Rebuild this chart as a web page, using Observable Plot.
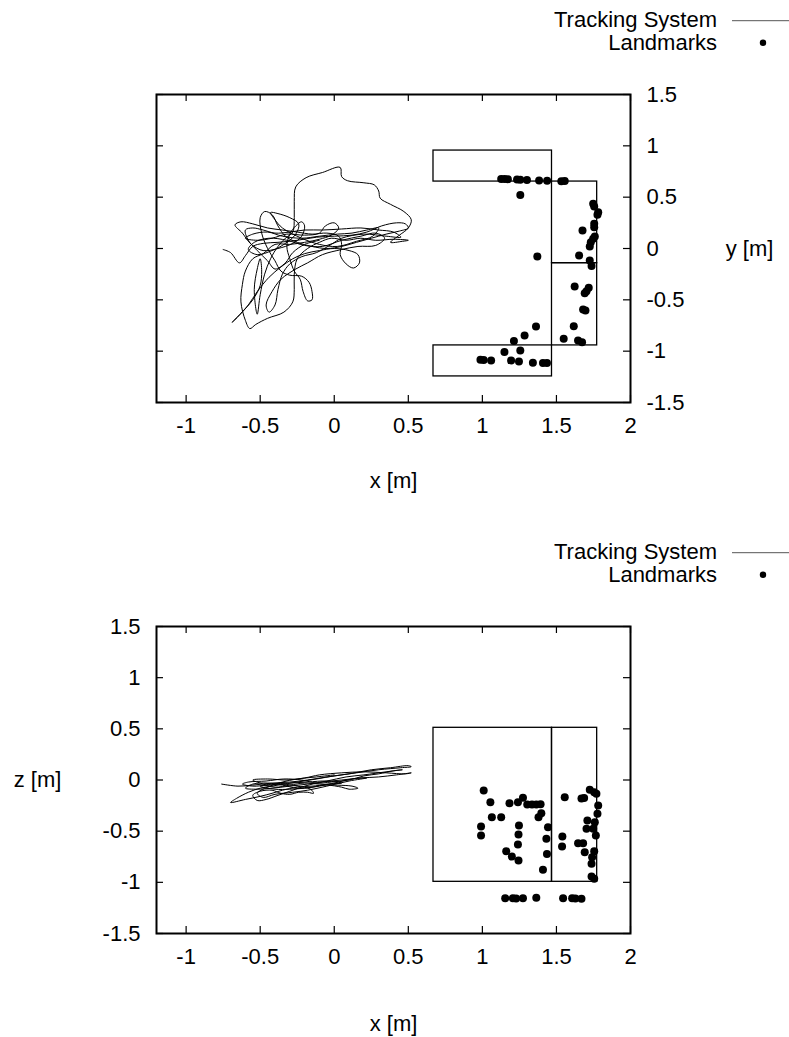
<!DOCTYPE html>
<html>
<head>
<meta charset="utf-8">
<script src="https://cdn.jsdelivr.net/npm/d3@7"></script>
<script src="https://cdn.jsdelivr.net/npm/@observablehq/plot@0.6"></script>
<style>
  html, body { margin: 0; padding: 0; background: #fff; }
  #wrap { position: relative; width: 789px; height: 1037px; font-family: "Liberation Sans", Arial, sans-serif; }
  #wrap > * { position: absolute; left: 0; }
  .leg text { font-family: "Liberation Sans", Arial, sans-serif; font-size: 22px; fill: #000; }
</style>
</head>
<body>
<div id="wrap"></div>
<script>
// ---------- data ----------
const xTicks = [-1, -0.5, 0, 0.5, 1, 1.5, 2];
const yTicks = [-1.5, -1, -0.5, 0, 0.5, 1, 1.5];
const zTicks = [-1.5, -1, -0.5, 0, 0.5, 1, 1.5];

const legendLabels = ["Tracking System", "Landmarks"];
const axisLabelX = "x [m]";
const axisLabelY = "y [m]";
const axisLabelZ = "z [m]";

// shelf outline (x-y view)
const rectXY_x1 = [0.67, 1.47, 1.47, 0.67];
const rectXY_x2 = [1.47, 1.775, 1.775, 1.47];
const rectXY_y1 = [0.652, -0.143, -0.944, -1.246];
const rectXY_y2 = [0.954, 0.652, -0.143, -0.944];

// shelf outline (x-z view)
const rectXZ_x1 = [0.67, 1.47];
const rectXZ_x2 = [1.47, 1.775];
const rectXZ_z1 = [-0.995, -0.995];
const rectXZ_z2 = [0.51, 0.51];

// landmarks (x-y view)
const lmXY_x = [1.127, 1.150, 1.172, 1.234, 1.256, 1.301, 1.383, 1.437, 1.533, 1.556,
  1.256, 1.748, 1.755, 1.782, 1.777, 1.755, 1.755, 1.676, 1.759, 1.748, 1.732, 1.725,
  1.371, 1.653, 1.725, 1.737, 1.623, 1.718, 1.703, 1.691, 1.680, 1.696, 1.617, 1.549,
  1.646, 1.673, 1.362, 1.285, 1.213, 1.256, 1.149, 0.987, 1.009, 1.059, 1.194, 1.247,
  1.341, 1.409, 1.436];
const lmXY_y = [0.678, 0.676, 0.675, 0.672, 0.670, 0.668, 0.662, 0.660, 0.655, 0.657,
  0.520, 0.435, 0.410, 0.354, 0.328, 0.240, 0.207, 0.175, 0.117, 0.094, 0.061, 0.019,
  -0.078, -0.068, -0.117, -0.170, -0.370, -0.383, -0.416, -0.435, -0.594, -0.604, -0.757, -0.880,
  -0.896, -0.912, -0.760, -0.847, -0.902, -0.993, -1.009, -1.083, -1.087, -1.090, -1.090, -1.100,
  -1.113, -1.116, -1.116];

// landmarks (x-z view)
const lmXZ_x = [1.009, 1.054, 1.183, 1.240, 1.274, 1.303, 1.335, 1.364, 1.393, 1.398, 1.379,
  1.064, 1.127, 1.556, 1.669, 1.687, 1.725, 1.755, 1.770, 1.782, 1.777, 1.709, 1.759,
  1.703, 1.748, 0.991, 1.247, 1.443, 0.991, 1.244, 1.240, 1.432, 1.540, 1.538, 1.646,
  1.680, 1.766, 1.691, 1.755, 1.741, 1.161, 1.199, 1.244, 1.436, 1.409, 1.737, 1.737,
  1.755, 1.154, 1.206, 1.228, 1.274, 1.364, 1.545, 1.606, 1.628, 1.669];
const lmXZ_z = [-0.103, -0.217, -0.227, -0.217, -0.174, -0.240, -0.240, -0.240, -0.238, -0.325, -0.364,
  -0.364, -0.364, -0.168, -0.180, -0.175, -0.096, -0.119, -0.135, -0.249, -0.330, -0.396, -0.412,
  -0.477, -0.477, -0.455, -0.445, -0.461, -0.543, -0.533, -0.630, -0.575, -0.552, -0.650, -0.618,
  -0.618, -0.543, -0.706, -0.696, -0.755, -0.696, -0.748, -0.787, -0.722, -0.878, -0.819, -0.943,
  -0.966, -1.155, -1.155, -1.157, -1.155, -1.150, -1.155, -1.155, -1.157, -1.160];

// tracking system trajectory (x-y view)
const trajXY_x = [-0.75, -0.70, -0.64, -0.60, -0.55, -0.48, -0.38, -0.25, -0.12, 0.00,
  0.12, 0.22, 0.32, 0.42, 0.48, 0.50, 0.44, 0.35, 0.25, 0.15,
  0.05, -0.05, -0.15, -0.25, -0.33, -0.38, -0.42, -0.47, -0.50, -0.49,
  -0.45, -0.40, -0.36, -0.30, -0.22, -0.17, -0.15, -0.15, -0.18, -0.21,
  -0.23, -0.27, -0.30, -0.32, -0.30, -0.26, -0.22, -0.20, -0.22, -0.28,
  -0.38, -0.48, -0.56, -0.62, -0.67, -0.63, -0.55, -0.45, -0.35, -0.25,
  -0.15, -0.05, 0.03, 0.05, 0.04, 0.08, 0.13, 0.17, 0.16, 0.10,
  0.00, -0.10, -0.20, -0.28, -0.36, -0.44, -0.52, -0.58, -0.64, -0.69,
  -0.63, -0.55, -0.50, -0.49, -0.50, -0.52, -0.54, -0.52, -0.50, -0.47,
  -0.43, -0.38, -0.33, -0.28, -0.27, -0.27, -0.26, -0.19, -0.08, 0.04,
  0.05, 0.09, 0.20, 0.27, 0.30, 0.31, 0.38, 0.47, 0.52, 0.50,
  0.44, 0.38, 0.46, 0.50, 0.40, 0.28, 0.18, 0.08, -0.02, -0.10,
  -0.18, -0.25, -0.27, -0.27, -0.28, -0.34, -0.45, -0.53, -0.57, -0.60,
  -0.63, -0.62, -0.60, -0.55, -0.48, -0.40, -0.30, -0.20, -0.10, -0.02,
  0.03, 0.00, -0.06, -0.10, -0.20, -0.32, -0.42, -0.52, -0.60, -0.55,
  -0.45, -0.35, -0.22, -0.10, 0.02, 0.12,
  0.22, 0.30, 0.26, 0.15, 0.02, -0.10, -0.22, -0.35, -0.40, -0.43,
  -0.38, -0.30, -0.24, -0.26, -0.34, -0.42, -0.52, -0.58, -0.54, -0.44,
  -0.32, -0.20, -0.08, 0.05, 0.18, 0.28, 0.34, 0.28, 0.16, 0.05,
  -0.08, -0.18, -0.26, -0.36, -0.42, -0.46, -0.44, -0.40, -0.38, -0.35,
  -0.30, -0.22, -0.12, -0.02, 0.05, 0.20, 0.35, 0.45, 0.40, 0.30,
  0.18, 0.05, -0.08, -0.20, -0.30, -0.40, -0.48, -0.55, -0.60, -0.58,
  -0.52, -0.45, -0.40, -0.33, -0.28, -0.20, -0.10];
const trajXY_y = [-0.01, -0.04, -0.14, -0.07, 0.02, 0.05, 0.06, 0.08, 0.11, 0.12,
  0.13, 0.16, 0.22, 0.25, 0.24, 0.20, 0.17, 0.14, 0.10, 0.06,
  0.02, 0.00, 0.02, 0.06, 0.12, 0.22, 0.33, 0.36, 0.30, 0.15,
  0.00, -0.12, -0.22, -0.26, -0.27, -0.33, -0.42, -0.50, -0.51, -0.42,
  -0.30, -0.22, -0.10, 0.02, 0.14, 0.22, 0.26, 0.22, 0.12, 0.05,
  0.00, -0.02, 0.04, 0.15, 0.23, 0.26, 0.24, 0.20, 0.18, 0.16,
  0.14, 0.15, 0.12, 0.04, -0.06, -0.15, -0.19, -0.14, -0.06, -0.02,
  0.00, -0.02, -0.05, -0.10, -0.18, -0.28, -0.42, -0.55, -0.65, -0.72,
  -0.63, -0.50, -0.36, -0.22, -0.10, -0.20, -0.40, -0.64, -0.45, -0.25,
  -0.10, 0.02, 0.10, 0.16, 0.30, 0.46, 0.60, 0.69, 0.74, 0.79,
  0.70, 0.66, 0.64, 0.62, 0.56, 0.49, 0.43, 0.36, 0.28, 0.20,
  0.13, 0.06, 0.07, 0.08, 0.09, 0.08, 0.10, 0.08, 0.10, 0.06,
  0.00, -0.10, -0.25, -0.40, -0.52, -0.62, -0.68, -0.74, -0.78, -0.70,
  -0.52, -0.35, -0.22, -0.10, -0.05, 0.04, 0.04, 0.06, 0.09, 0.13,
  0.20, 0.25, 0.22, 0.15, 0.13, 0.14, 0.10, 0.08, 0.10, 0.14,
  0.16, 0.12, 0.10, 0.12, 0.14, 0.15,
  0.18, 0.20, 0.12, 0.07, 0.02, 0.04, 0.10, 0.20, 0.28, 0.35,
  0.34, 0.30, 0.24, 0.14, 0.04, -0.02, -0.06, -0.01, 0.06, 0.10,
  0.08, 0.03, 0.02, 0.08, 0.12, 0.15, 0.10, 0.03, 0.02, -0.01,
  -0.06, -0.14, -0.20, -0.30, -0.42, -0.55, -0.62, -0.55, -0.40, -0.25,
  -0.15, -0.08, -0.04, 0.04, 0.10, 0.14, 0.12, 0.11, 0.16, 0.18,
  0.20, 0.19, 0.18, 0.18, 0.16, 0.15, 0.18, 0.20, 0.18, 0.08,
  -0.02, -0.12, -0.20, -0.14, -0.04, 0.04, 0.08];

// tracking system trajectory (x-z view)
const trajXZ_x = [-0.76, -0.65, -0.55, -0.42, -0.30, -0.18, -0.05, 0.10, 0.25, 0.38,
  0.50, 0.52, 0.45, 0.30, 0.15, 0.00, -0.12, -0.25, -0.38, -0.50,
  -0.58, -0.66, -0.70, -0.60, -0.50, -0.42, -0.35, -0.25, -0.15, -0.05,
  0.05, 0.10, 0.16, 0.12, 0.02, -0.10, -0.20, -0.30, -0.40, -0.50,
  -0.55, -0.45, -0.32, -0.20, -0.10, 0.05, 0.20, 0.35, 0.48, 0.52,
  0.42, 0.30, 0.18, 0.05, -0.08, -0.20, -0.30, -0.38, -0.46, -0.52,
  -0.55, -0.50, -0.42, -0.36, -0.30, -0.24, -0.18, -0.14, -0.16, -0.25,
  -0.35, -0.45, -0.55, -0.62, -0.58, -0.46, -0.34, -0.22, -0.12, -0.02,
  0.10, 0.20, 0.30, 0.40, 0.46,
  0.35, 0.20, 0.08, -0.05, -0.18, -0.30, -0.42, -0.52, -0.60, -0.55,
  -0.45, -0.35, -0.25, -0.15, -0.05, 0.05, -0.05, -0.18, -0.30, -0.42,
  -0.50, -0.40, -0.30, -0.20, -0.10, 0.00, 0.12, 0.22, 0.10, -0.05,
  -0.18, -0.28, -0.40, -0.48, -0.52, -0.45, -0.35, -0.25, -0.12, 0.00];
const trajXZ_z = [-0.04, -0.06, -0.05, -0.03, -0.02, 0.00, 0.03, 0.06, 0.10, 0.12,
  0.14, 0.13, 0.12, 0.10, 0.07, 0.04, 0.01, -0.02, -0.05, -0.08,
  -0.12, -0.18, -0.22, -0.19, -0.16, -0.13, -0.10, -0.07, -0.06, -0.05,
  -0.07, -0.09, -0.08, -0.06, -0.05, -0.04, -0.03, -0.05, -0.07, -0.03,
  0.00, 0.01, 0.00, 0.02, 0.05, 0.07, 0.08, 0.07, 0.06, 0.07,
  0.05, 0.03, 0.02, 0.00, -0.02, -0.06, -0.11, -0.15, -0.19, -0.20,
  -0.15, -0.11, -0.10, -0.13, -0.14, -0.12, -0.12, -0.13, -0.09, -0.06,
  -0.04, -0.05, -0.06, -0.04, -0.02, -0.01, 0.01, 0.00, -0.03, -0.02,
  0.00, 0.04, 0.06, 0.09, 0.10,
  0.08, 0.05, 0.03, -0.01, -0.04, -0.06, -0.08, -0.09, -0.08, -0.04,
  -0.03, -0.05, -0.08, -0.07, -0.04, -0.03, -0.01, -0.02, -0.03, -0.04,
  -0.06, -0.09, -0.09, -0.08, -0.06, -0.03, 0.01, 0.02, -0.01, -0.06,
  -0.10, -0.12, -0.14, -0.17, -0.13, -0.07, -0.02, 0.01, 0.03, 0.05];

// ---------- build tables ----------
const rectsXY = rectXY_x1.map((_, i) => ({x1: rectXY_x1[i], x2: rectXY_x2[i], y1: rectXY_y1[i], y2: rectXY_y2[i]}));
const rectsXZ = rectXZ_x1.map((_, i) => ({x1: rectXZ_x1[i], x2: rectXZ_x2[i], y1: rectXZ_z1[i], y2: rectXZ_z2[i]}));
const lmXY = lmXY_x.map((x, i) => ({x, y: lmXY_y[i]}));
const lmXZ = lmXZ_x.map((x, i) => ({x, y: lmXZ_z[i]}));
const trXY = trajXY_x.map((x, i) => ({x, y: trajXY_y[i]}));
const trXZ = trajXZ_x.map((x, i) => ({x, y: trajXZ_z[i]}));

const FONT = "'Liberation Sans', Arial, Helvetica, sans-serif";
const fmt = d => String(d);

function panel({height, marginTop, marginBottom, yAnchor, yTickValues, yLabel, yLabelDx, xLabelDy, rects, lms, traj}) {
  const frameW = 789 - 156 - 159;
  const frameH = height - marginTop - marginBottom;
  const tl = 7;
  return Plot.plot({
    width: 789, height,
    marginTop, marginBottom, marginLeft: 156, marginRight: 159,
    x: {domain: [-1.2, 2]},
    y: {domain: [-1.5, 1.5]},
    style: {fontFamily: FONT, fontSize: "22px", background: "#fff", color: "#000", overflow: "visible"},
    marks: [
      Plot.axisX({ticks: xTicks, anchor: "bottom", tickSize: 0, tickPadding: 15, tickFormat: fmt, label: null}),
      Plot.axisY({ticks: yTickValues, anchor: yAnchor, tickSize: 0, tickPadding: 16, tickFormat: fmt, label: null}),
      Plot.tickX(xTicks, {x: d => d, insetTop: frameH - tl, stroke: "#000", strokeWidth: 1.2}),
      Plot.tickX(xTicks, {x: d => d, insetBottom: frameH - tl, stroke: "#000", strokeWidth: 1.2}),
      Plot.tickY(yTickValues, {y: d => d, insetLeft: frameW - tl, stroke: "#000", strokeWidth: 1.2}),
      Plot.tickY(yTickValues, {y: d => d, insetRight: frameW - tl, stroke: "#000", strokeWidth: 1.2}),
      Plot.rect(rects, {x1: "x1", x2: "x2", y1: "y1", y2: "y2", fill: "none", stroke: "#000", strokeWidth: 1.3}),
      Plot.line(traj, {x: "x", y: "y", curve: "catmull-rom", stroke: "#000", strokeWidth: 1}),
      Plot.dot(lms, {x: "x", y: "y", r: 4, fill: "#000", stroke: "none"}),
      Plot.frame({stroke: "#000", strokeWidth: 2}),
      Plot.text([axisLabelX], {frameAnchor: "bottom", dy: xLabelDy, text: d => d, fontSize: 22, fill: "#000"}),
      Plot.text([yLabel], {frameAnchor: yAnchor, dx: yLabelDx, text: d => d, fontSize: 22, fill: "#000", textAnchor: "middle"})
    ]
  });
}

function legend(top) {
  const ns = "http://www.w3.org/2000/svg";
  const svg = document.createElementNS(ns, "svg");
  svg.setAttribute("width", 789);
  svg.setAttribute("height", 60);
  svg.setAttribute("class", "leg");
  svg.style.top = top + "px";
  svg.innerHTML =
    `<text x="717" y="26.7" text-anchor="end">${legendLabels[0]}</text>` +
    `<line x1="732" x2="789" y1="20.7" y2="20.7" stroke="#555" stroke-width="1"/>` +
    `<text x="717" y="50" text-anchor="end">${legendLabels[1]}</text>` +
    `<circle cx="763" cy="42.7" r="3.2" fill="#000"/>`;
  return svg;
}

const wrap = document.getElementById("wrap");

const top1 = panel({height: 518, marginTop: 94, marginBottom: 116, yAnchor: "right", yTickValues: yTicks,
  yLabel: axisLabelY, yLabelDx: 119, xLabelDy: 85, rects: rectsXY, lms: lmXY, traj: trXY});
top1.style.top = "0px";
wrap.appendChild(top1);

const bot = panel({height: 519, marginTop: 108, marginBottom: 104, yAnchor: "left", yTickValues: zTicks,
  yLabel: axisLabelZ, yLabelDx: -119, xLabelDy: 97, rects: rectsXZ, lms: lmXZ, traj: trXZ});
bot.style.top = "518px";
wrap.appendChild(bot);

wrap.appendChild(legend(0));
wrap.appendChild(legend(532));
</script>
</body>
</html>
